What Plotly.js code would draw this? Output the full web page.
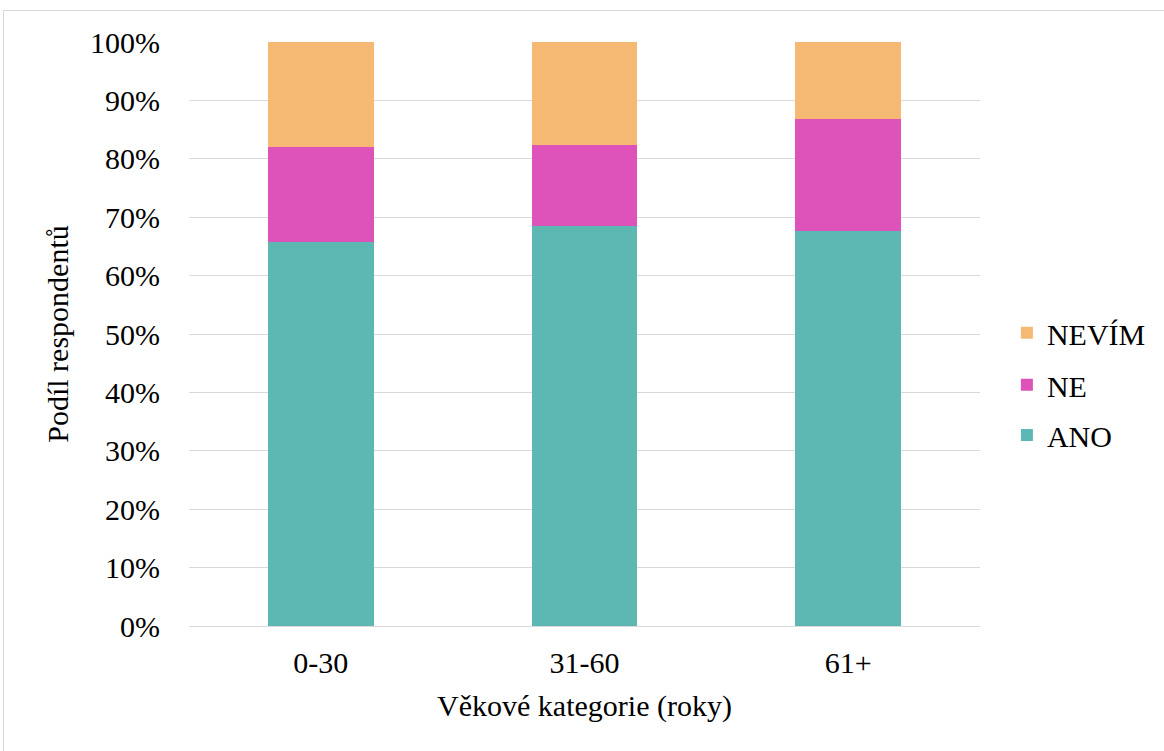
<!DOCTYPE html>
<html><head><meta charset="utf-8">
<script src="https://cdn.plot.ly/plotly-3.0.1.min.js"></script>
<style>
body{margin:0;padding:0;background:#fff;}
#frame{position:absolute;left:3px;top:10px;width:1200px;height:800px;border:1px solid #d9d9d9;box-sizing:border-box;pointer-events:none;}
#chart{position:absolute;left:0;top:0;width:1164px;height:751px;}
</style></head>
<body>
<div id="chart"></div>
<div id="frame"></div>
<script>
const categories = ["0-30", "31-60", "61+"];
const ano = [0.657, 0.685, 0.676];
const ne = [0.164, 0.139, 0.193];
const nevim = [0.179, 0.176, 0.131];
const seriesNames = ["ANO", "NE", "NEVÍM"];
const colors = ["#5DB8B4", "#DD53B9", "#F5B973"];

const fam = "Liberation Serif";
const vals = [ano, ne, nevim];
const legendIds = ["legend3", "legend2", "legend"];
const legendY = [0.327, 0.413, 0.502];
const traces = vals.map((v, i) => ({
  type: "bar", x: categories, y: v, name: seriesNames[i],
  marker: {color: colors[i], line: {width: 0}},
  legend: legendIds[i], hoverinfo: "skip"
}));

const layout = {
  width: 1164, height: 751,
  margin: {l: 188.5, r: 183.5, t: 42, b: 125},
  barmode: "stack", bargap: 0.6,
  paper_bgcolor: "#fff", plot_bgcolor: "#fff",
  xaxis: {
    title: {text: "Věkové kategorie (roky)", font: {family: fam, size: 30, color: "#000"}, standoff: 16},
    tickfont: {family: fam, size: 30, color: "#000"},
    ticks: "outside", ticklen: 10, tickcolor: "rgba(0,0,0,0)",
    showline: false, showgrid: false
  },
  yaxis: {
    title: {text: "Podíl respondentů", font: {family: fam, size: 30, color: "#000"}, standoff: 12},
    range: [0, 1], tickformat: ".0%", dtick: 0.1,
    tickfont: {family: fam, size: 30, color: "#000"},
    ticks: "outside", ticklen: 22, tickcolor: "rgba(0,0,0,0)",
    showgrid: true, gridcolor: "#d9d9d9", gridwidth: 1.3,
    zeroline: true, zerolinecolor: "#d9d9d9", zerolinewidth: 1.3,
    showline: false
  },
  showlegend: true
};
legendIds.forEach((id, i) => {
  layout[id] = {
    x: 1.034, xanchor: "left", y: legendY[i], yanchor: "middle",
    font: {family: fam, size: 30, color: "#000"}, bgcolor: "rgba(0,0,0,0)"
  };
});

Plotly.newPlot("chart", traces, layout, {displayModeBar: false});
</script>
</body></html>
